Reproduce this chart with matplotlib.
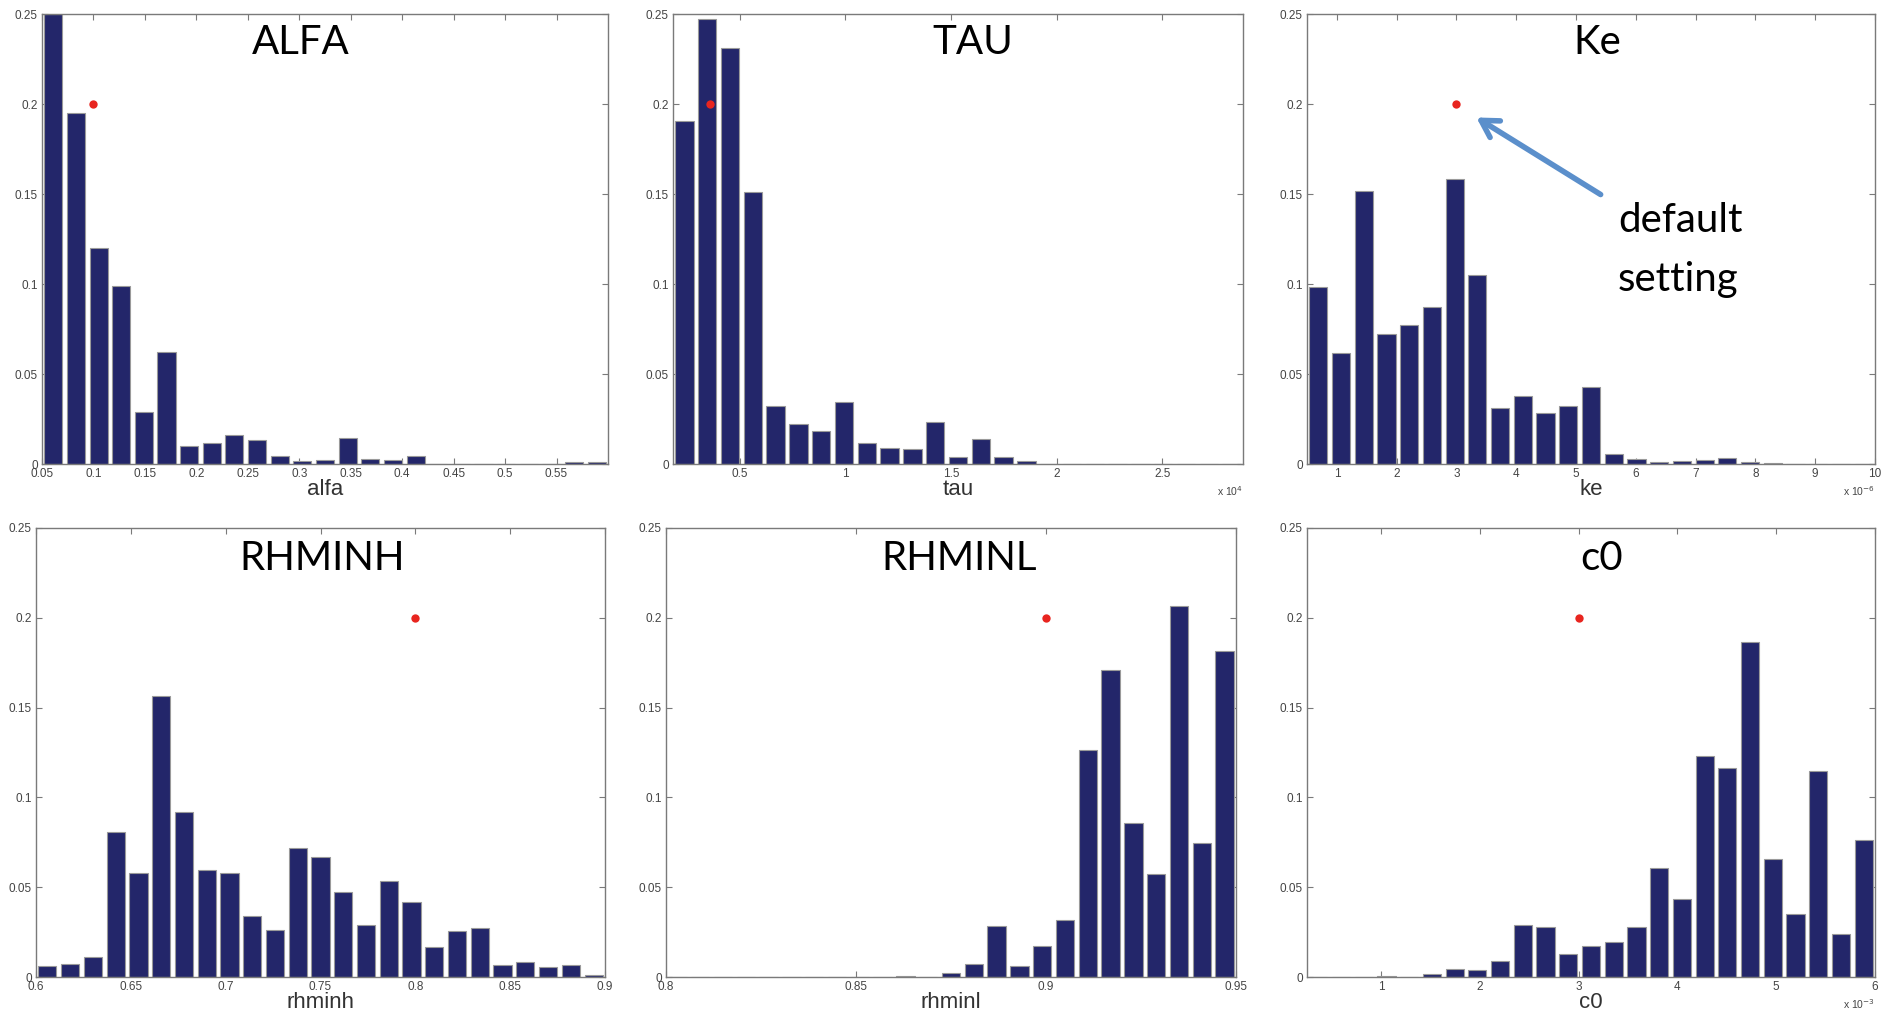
import numpy as np
import matplotlib
matplotlib.use("Agg")
import matplotlib.pyplot as plt
from matplotlib.ticker import FuncFormatter

# ---------------- data ----------------
titles = ["ALFA", "TAU", "Ke", "RHMINH", "RHMINL", "c0"]
xlabels = ["alfa", "tau", "ke", "rhminh", "rhminl", "c0"]
multipliers = ["", "x 10$^{4}$", "x 10$^{-6}$", "", "", "x 10$^{-3}$"]

# axis ranges (in displayed units)
xranges = [(0.05, 0.60), (0.185, 2.882), (0.5, 10.0), (0.6, 0.9), (0.8, 0.95), (0.25, 6.0)]

xticks_alfa = [0.05, 0.1, 0.15, 0.2, 0.25, 0.3, 0.35, 0.4, 0.45, 0.5, 0.55]
xticks_tau = [0.5, 1, 1.5, 2, 2.5]
xticks_ke = [1, 2, 3, 4, 5, 6, 7, 8, 9, 10]
xticks_rhminh = [0.6, 0.65, 0.7, 0.75, 0.8, 0.85, 0.9]
xticks_rhminl = [0.8, 0.85, 0.9, 0.95]
xticks_c0 = [1, 2, 3, 4, 5, 6]

# 25-bin relative frequencies
freq_alfa = [0.25, 0.195, 0.120, 0.0988, 0.0287, 0.0625, 0.0100, 0.0115, 0.0161,
             0.0133, 0.0043, 0.0017, 0.0024, 0.0142, 0.0030, 0.0024, 0.0044, 0, 0,
             0, 0, 0, 0, 0.0009, 0.0009]
freq_tau = [0.1906, 0.247, 0.231, 0.151, 0.0324, 0.022, 0.0183, 0.0346, 0.0115,
            0.0087, 0.0081, 0.0233, 0.0041, 0.0139, 0.0041, 0.0015, 0, 0, 0, 0,
            0, 0, 0, 0, 0]
freq_ke = [0.0986, 0.0614, 0.1517, 0.072, 0.077, 0.0872, 0.1586, 0.1051, 0.0309,
           0.0379, 0.0281, 0.032, 0.0429, 0.0056, 0.0028, 0.0013, 0.0015, 0.002,
           0.0031, 0.0013, 0.0007, 0, 0, 0, 0]
freq_rhminh = [0.0059, 0.0074, 0.0109, 0.0809, 0.0581, 0.1564, 0.0918, 0.0596,
               0.0581, 0.0339, 0.0263, 0.0716, 0.0666, 0.0472, 0.029, 0.0537,
               0.0416, 0.0168, 0.0255, 0.0274, 0.0068, 0.0085, 0.0056, 0.0068, 0.0011]
freq_rhminl = [0, 0, 0, 0, 0, 0, 0, 0, 0, 0, 0.0007, 0, 0.002, 0.0074, 0.0283,
               0.0063, 0.0174, 0.032, 0.1264, 0.171, 0.0859, 0.0574, 0.2067,
               0.0746, 0.1815]
freq_c0 = [0, 0, 0, 0.0007, 0, 0.0015, 0.0043, 0.0037, 0.0087, 0.0292, 0.0276,
           0.013, 0.0174, 0.0196, 0.0276, 0.0609, 0.0433, 0.1232, 0.1166, 0.1865,
           0.0657, 0.0348, 0.1145, 0.0237, 0.0764]

# default settings (red dots)
default_x = [0.1, 0.36, 3.0, 0.8, 0.9, 3.0]
default_y = [0.2, 0.2, 0.2, 0.2, 0.2, 0.2]

yticks = [0, 0.05, 0.1, 0.15, 0.2, 0.25]

freqs = [freq_alfa, freq_tau, freq_ke, freq_rhminh, freq_rhminl, freq_c0]
xticks_all = [xticks_alfa, xticks_tau, xticks_ke, xticks_rhminh, xticks_rhminl, xticks_c0]

# ---------------- layout ----------------
W, H = 1896, 1016
fig = plt.figure(figsize=(W / 100, H / 100), dpi=100)
fig.patch.set_facecolor("white")

panels_px = [(42, 608, 14, 464), (673, 1243, 14, 464), (1307, 1875, 14, 464),
             (36, 605, 528, 977), (666, 1236, 528, 977), (1307, 1875, 528, 977)]
title_px = [(301, 42), (973, 43), (1597, 43), (322, 559), (959, 559), (1602, 559)]

bar_color = "#23266A"
edge_color = "#9A9A9A"
spine_color = "#7A7A7A"
tick_font = "Liberation Sans"
title_font = "Lato"

def gfmt(v, pos):
    return ("%g" % round(v, 6))

for i in range(6):
    l, r, t, b = panels_px[i]
    ax = fig.add_axes([l / W, 1 - b / H, (r - l) / W, (b - t) / H])
    lo, hi = xranges[i]
    nb = len(freqs[i])
    edges = np.linspace(lo, hi, nb + 1)
    centers = 0.5 * (edges[:-1] + edges[1:])
    bw = (hi - lo) / nb
    ax.bar(centers, freqs[i], width=0.8 * bw, color=bar_color,
           edgecolor=edge_color, linewidth=0.8, zorder=2)
    ax.plot([default_x[i]], [default_y[i]], "o", color="#E8251F",
            markersize=6, markeredgewidth=0, zorder=3)
    ax.set_xlim(lo, hi)
    ax.set_ylim(0, 0.25)
    ax.set_xticks(xticks_all[i])
    ax.set_yticks(yticks)
    ax.xaxis.set_major_formatter(FuncFormatter(gfmt))
    ax.yaxis.set_major_formatter(FuncFormatter(gfmt))
    ax.tick_params(direction="in", top=True, right=True, length=4, width=0.8,
                   color=spine_color, labelsize=8.5, labelcolor="#444444", pad=3)
    for lab in ax.get_xticklabels() + ax.get_yticklabels():
        lab.set_fontfamily(tick_font)
    for s in ax.spines.values():
        s.set_color(spine_color)
        s.set_linewidth(1.0)
    ax.set_xlabel(xlabels[i], fontsize=16, family=tick_font, color="#333333", labelpad=-1)
    if multipliers[i]:
        ax.text(1.0, -27.0 / (b - t), multipliers[i], transform=ax.transAxes, ha="right",
                va="center", fontsize=7.5, family=tick_font, color="#444444")
    tx, ty = title_px[i]
    fig.text(tx / W, 1 - ty / H, titles[i], ha="center", va="center",
             fontsize=29, family=title_font, color="black")

# annotation on Ke panel
fig.text(1618 / W, 1 - 202 / H, "default\nsetting", ha="left", va="top",
         fontsize=29, family=title_font, color="black", linespacing=1.72)
fig.add_artist(matplotlib.patches.FancyArrowPatch(
    (1603 / W, 1 - 196 / H), (1474 / W, 1 - 116 / H), transform=fig.transFigure,
    arrowstyle="->,head_length=12,head_width=7", color="#5B8FCB", linewidth=4,
    mutation_scale=1))

fig.savefig("out.png", dpi=100, facecolor="white")
